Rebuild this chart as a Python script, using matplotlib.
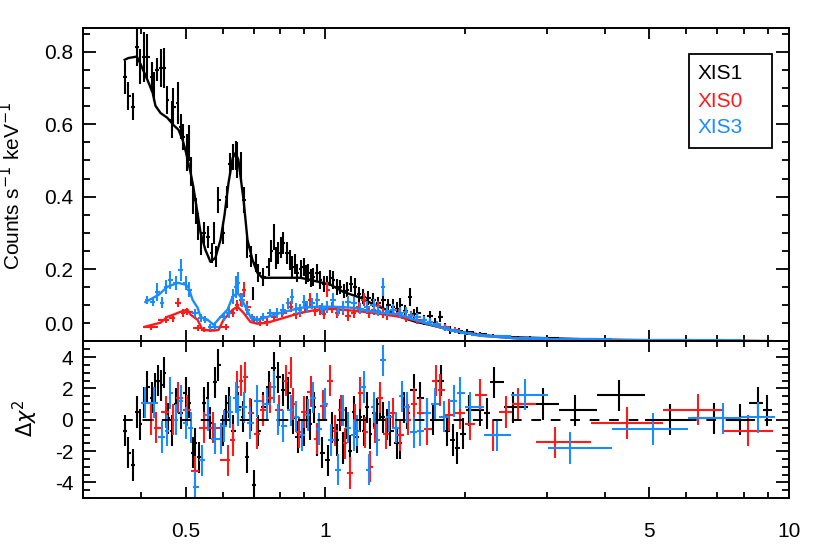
import numpy as np
import matplotlib
matplotlib.use("Agg")
import matplotlib.pyplot as plt
from matplotlib.patches import Rectangle
from matplotlib.ticker import FixedLocator, MultipleLocator, NullFormatter, FixedFormatter

plt.rcParams['font.family'] = ['Liberation Sans', 'DejaVu Sans']
plt.rcParams['mathtext.fontset'] = 'dejavusans'

BLACK = "black"
RED = "#ff1a1a"
BLUE = "#1a8cff"

# ---- XIS1 spectrum: energy (keV), counts s^-1 keV^-1, 1-sigma ----
xis1_e = [0.369, 0.376, 0.384, 0.392, 0.399, 0.407, 0.413, 0.422, 0.426, 0.434,
          0.443, 0.448, 0.456, 0.466, 0.470, 0.480, 0.487, 0.494, 0.502, 0.507,
          0.512, 0.519, 0.526, 0.532, 0.539, 0.546, 0.557, 0.568, 0.574, 0.581,
          0.588, 0.600, 0.612, 0.624, 0.633, 0.640, 0.646, 0.656, 0.666, 0.679,
          0.690, 0.698, 0.708, 0.717, 0.735, 0.754, 0.765, 0.773, 0.782, 0.792,
          0.802, 0.812, 0.828, 0.838, 0.849, 0.860, 0.870, 0.884, 0.897, 0.908,
          0.919, 0.930, 0.942, 0.958, 0.975, 0.992, 1.010, 1.025, 1.040, 1.058,
          1.077, 1.096, 1.115, 1.138, 1.161, 1.184, 1.207, 1.238, 1.269, 1.300,
          1.334, 1.368, 1.402, 1.425, 1.451, 1.488, 1.524, 1.551, 1.579, 1.630,
          1.684, 1.727, 1.770, 1.815, 1.859, 1.94, 2.023, 2.16, 2.30, 2.45,
          2.60, 2.76, 2.94, 3.46, 4.30, 5.54, 6.89, 7.84, 8.57, 8.97]
xis1_f = [0.730, 0.679, 0.649, 0.814, 0.759, 0.786, 0.786, 0.731, 0.704, 0.751,
          0.756, 0.756, 0.668, 0.613, 0.649, 0.660, 0.593, 0.565, 0.522, 0.549,
          0.470, 0.391, 0.360, 0.317, 0.270, 0.300, 0.289, 0.245, 0.300, 0.235,
          0.391, 0.300, 0.400, 0.490, 0.510, 0.515, 0.502, 0.483, 0.391, 0.261,
          0.235, 0.133, 0.217, 0.190, 0.179, 0.206, 0.250, 0.289, 0.230, 0.245,
          0.260, 0.272, 0.245, 0.225, 0.206, 0.215, 0.190, 0.200, 0.206, 0.185,
          0.190, 0.175, 0.179, 0.190, 0.170, 0.158, 0.162, 0.175, 0.170, 0.150,
          0.151, 0.140, 0.143, 0.160, 0.151, 0.130, 0.124, 0.120, 0.115, 0.105,
          0.115, 0.100, 0.096, 0.090, 0.100, 0.085, 0.124, 0.075, 0.079, 0.060,
          0.070, 0.052, 0.068, 0.040, 0.032, 0.030, 0.027, 0.020, 0.016, 0.013,
          0.011, 0.010, 0.009, 0.006, 0.005, 0.003, 0.002, 0.002, 0.002, 0.001]
xis1_ferr = [0.046, 0.039, 0.037, 0.053, 0.048, 0.069, 0.062, 0.041, 0.040, 0.032,
             0.053, 0.055, 0.039, 0.050, 0.050, 0.058, 0.035, 0.035, 0.050, 0.050,
             0.040, 0.040, 0.035, 0.037, 0.032, 0.030, 0.030, 0.028, 0.030, 0.028,
             0.035, 0.030, 0.030, 0.030, 0.035, 0.040, 0.050, 0.040, 0.035, 0.030,
             0.028, 0.018, 0.025, 0.025, 0.025, 0.025, 0.030, 0.035, 0.030, 0.030,
             0.030, 0.030, 0.030, 0.028, 0.030, 0.028, 0.025, 0.025, 0.025, 0.025,
             0.025, 0.025, 0.025, 0.025, 0.025, 0.022, 0.020, 0.022, 0.025, 0.022,
             0.020, 0.020, 0.020, 0.022, 0.025, 0.020, 0.020, 0.020, 0.020, 0.018,
             0.025, 0.018, 0.020, 0.018, 0.020, 0.016, 0.025, 0.015, 0.015, 0.014,
             0.015, 0.012, 0.015, 0.010, 0.010, 0.008, 0.008, 0.006, 0.005, 0.005,
             0.004, 0.004, 0.003, 0.003, 0.002, 0.002, 0.001, 0.001, 0.001, 0.001]

# ---- XIS0 spectrum ----
xis0_e = [0.420, 0.452, 0.468, 0.482, 0.492, 0.504, 0.530, 0.546, 0.565, 0.609,
          0.631, 0.646, 0.656, 0.666, 0.679, 0.700, 0.724, 0.750, 0.773, 0.808,
          0.841, 0.865, 0.883, 0.905, 0.928, 0.950, 0.975, 0.992, 1.01, 1.035,
          1.06, 1.09, 1.12, 1.15, 1.18, 1.21, 1.24, 1.27, 1.30, 1.33,
          1.36, 1.40, 1.44, 1.49, 1.53, 1.58, 1.63, 1.68, 1.74, 1.81,
          1.90, 2.00, 2.16, 2.30, 2.60, 3.13, 4.48, 6.37, 8.16]
xis0_f = [0.041, 0.060, 0.065, 0.107, 0.079, 0.082, 0.038, 0.032, 0.032, 0.041,
          0.079, 0.100, 0.115, 0.143, 0.096, 0.060, 0.052, 0.054, 0.068, 0.079,
          0.096, 0.075, 0.079, 0.095, 0.115, 0.085, 0.088, 0.075, 0.143, 0.095,
          0.079, 0.088, 0.070, 0.079, 0.095, 0.115, 0.080, 0.088, 0.098, 0.079,
          0.072, 0.088, 0.078, 0.065, 0.072, 0.060, 0.058, 0.055, 0.045, 0.041,
          0.032, 0.024, 0.018, 0.014, 0.010, 0.007, 0.005, 0.003, 0.002]
xis0_ferr = [0.008, 0.010, 0.010, 0.012, 0.010, 0.010, 0.008, 0.007, 0.007, 0.008,
             0.012, 0.015, 0.018, 0.020, 0.015, 0.010, 0.010, 0.010, 0.012, 0.012,
             0.015, 0.012, 0.012, 0.014, 0.018, 0.014, 0.014, 0.012, 0.020, 0.015,
             0.014, 0.015, 0.013, 0.014, 0.015, 0.018, 0.014, 0.014, 0.015, 0.014,
             0.013, 0.014, 0.013, 0.012, 0.013, 0.011, 0.011, 0.010, 0.009, 0.008,
             0.007, 0.006, 0.005, 0.004, 0.003, 0.002, 0.002, 0.001, 0.001]

# ---- XIS3 spectrum ----
xis3_e = [0.413, 0.424, 0.434, 0.445, 0.452, 0.463, 0.475, 0.487, 0.500, 0.507,
          0.524, 0.538, 0.551, 0.565, 0.579, 0.603, 0.618, 0.631, 0.640, 0.649,
          0.662, 0.679, 0.696, 0.713, 0.735, 0.761, 0.788, 0.812, 0.830, 0.849,
          0.866, 0.883, 0.900, 0.914, 0.935, 0.961, 0.985, 1.01, 1.04, 1.065,
          1.09, 1.12, 1.15, 1.19, 1.23, 1.27, 1.30, 1.33, 1.36, 1.40,
          1.45, 1.49, 1.53, 1.58, 1.63, 1.68, 1.74, 1.81, 1.90, 2.00,
          2.13, 2.35, 2.70, 3.37, 5.09, 7.21, 8.57]
xis3_f = [0.115, 0.109, 0.137, 0.107, 0.151, 0.170, 0.162, 0.198, 0.162, 0.143,
          0.079, 0.065, 0.060, 0.041, 0.041, 0.068, 0.079, 0.124, 0.151, 0.162,
          0.115, 0.088, 0.065, 0.060, 0.068, 0.079, 0.079, 0.088, 0.105, 0.124,
          0.090, 0.088, 0.110, 0.096, 0.105, 0.115, 0.090, 0.096, 0.115, 0.085,
          0.096, 0.110, 0.107, 0.090, 0.096, 0.100, 0.085, 0.151, 0.085, 0.088,
          0.080, 0.082, 0.070, 0.068, 0.060, 0.055, 0.048, 0.038, 0.030, 0.024,
          0.019, 0.015, 0.010, 0.007, 0.004, 0.003, 0.002]
xis3_ferr = [0.012, 0.012, 0.025, 0.015, 0.020, 0.025, 0.020, 0.030, 0.020, 0.020,
             0.012, 0.012, 0.010, 0.008, 0.008, 0.012, 0.015, 0.020, 0.030, 0.030,
             0.020, 0.015, 0.012, 0.010, 0.012, 0.012, 0.014, 0.015, 0.016, 0.020,
             0.015, 0.015, 0.018, 0.016, 0.016, 0.018, 0.015, 0.016, 0.018, 0.014,
             0.016, 0.017, 0.017, 0.015, 0.016, 0.016, 0.014, 0.025, 0.014, 0.015,
             0.014, 0.014, 0.012, 0.012, 0.011, 0.010, 0.009, 0.008, 0.007, 0.006,
             0.005, 0.004, 0.003, 0.002, 0.002, 0.001, 0.001]

# ---- best-fit models ----
mod1_e = [0.369, 0.376, 0.392, 0.399, 0.413, 0.424, 0.430, 0.441, 0.456, 0.470,
          0.482, 0.492, 0.500, 0.512, 0.519, 0.538, 0.551, 0.565, 0.579, 0.594,
          0.606, 0.618, 0.631, 0.640, 0.649, 0.666, 0.679, 0.696, 0.713, 0.731,
          0.883, 0.928, 1.025, 1.093, 1.19, 1.25, 1.35, 1.45, 1.56, 1.68,
          1.86, 2.02, 2.35, 2.81, 3.9, 6.4, 9.0]
mod1_f = [0.778, 0.783, 0.787, 0.767, 0.723, 0.687, 0.651, 0.631, 0.618, 0.598,
          0.585, 0.557, 0.524, 0.466, 0.427, 0.300, 0.253, 0.220, 0.231, 0.281,
          0.350, 0.438, 0.507, 0.521, 0.502, 0.391, 0.281, 0.226, 0.190, 0.176,
          0.176, 0.170, 0.157, 0.137, 0.121, 0.107, 0.088, 0.068, 0.055, 0.046,
          0.032, 0.024, 0.013, 0.010, 0.005, 0.002, 0.001]
mod0_e = [0.409, 0.441, 0.456, 0.470, 0.487, 0.504, 0.512, 0.530, 0.543, 0.574,
          0.588, 0.603, 0.631, 0.646, 0.666, 0.689, 0.713, 0.750, 0.812, 0.883,
          0.961, 1.04, 1.15, 1.27, 1.45, 1.60, 1.86, 2.16, 2.63, 3.9, 8.6]
mod0_f = [0.041, 0.052, 0.068, 0.074, 0.082, 0.088, 0.074, 0.060, 0.032, 0.030,
          0.032, 0.060, 0.088, 0.096, 0.079, 0.054, 0.049, 0.052, 0.065, 0.079,
          0.088, 0.090, 0.085, 0.079, 0.068, 0.055, 0.032, 0.016, 0.008, 0.004, 0.001]
mod3_e = [0.409, 0.437, 0.456, 0.480, 0.500, 0.507, 0.517, 0.530, 0.538, 0.557,
          0.574, 0.594, 0.615, 0.631, 0.646, 0.656, 0.672, 0.689, 0.713, 0.750,
          0.800, 0.883, 0.961, 1.04, 1.15, 1.27, 1.45, 1.60, 1.86, 2.16,
          2.63, 3.9, 8.6]
mod3_f = [0.109, 0.129, 0.151, 0.162, 0.157, 0.148, 0.115, 0.093, 0.068, 0.060,
          0.046, 0.068, 0.088, 0.124, 0.134, 0.124, 0.096, 0.068, 0.060, 0.068,
          0.079, 0.093, 0.096, 0.096, 0.093, 0.082, 0.074, 0.055, 0.032, 0.016,
          0.008, 0.004, 0.001]

# ---- residuals, (data - model) / sigma ----
res1_e = [0.369, 0.376, 0.384, 0.392, 0.399, 0.407, 0.413, 0.422, 0.428, 0.436,
          0.443, 0.448, 0.458, 0.466, 0.475, 0.487, 0.500, 0.507, 0.517, 0.524,
          0.535, 0.546, 0.557, 0.565, 0.579, 0.588, 0.600, 0.609, 0.618, 0.633,
          0.649, 0.665, 0.679, 0.690, 0.700, 0.717, 0.735, 0.754, 0.773, 0.792,
          0.812, 0.832, 0.852, 0.872, 0.897, 0.912, 0.928, 0.945, 0.961, 0.985,
          1.015, 1.035, 1.06, 1.075, 1.093, 1.11, 1.13, 1.15, 1.17, 1.19,
          1.21, 1.23, 1.25, 1.27, 1.29, 1.31, 1.33, 1.36, 1.38, 1.43,
          1.45, 1.48, 1.50, 1.55, 1.60, 1.66, 1.71, 1.78, 1.83, 1.88,
          1.92, 1.98, 2.04, 2.16, 2.23, 2.31, 2.54, 2.94, 3.46, 4.30,
          5.54, 6.89, 7.84, 8.57, 8.97]
res1_r = [-0.7, -2.1, -2.9, 0.5, -0.3, 1.1, 2.1, 1.4, 2.0, 2.5,
          2.2, 3.0, 0.1, -0.7, 1.0, 0.4, 1.7, 1.1, -2.1, -1.5,
          -2.4, 1.1, 1.4, -0.2, 2.4, 3.5, -0.7, 0.6, 1.1, -0.7,
          0.8, 0.2, -2.4, 0.3, -4.2, -0.7, 0.8, 2.1, 3.3, 2.7,
          1.9, 1.7, 0.1, -1.1, -0.7, 0.5, -0.3, 0.8, -1.3, -2.1,
          -2.6, -0.5, -1.3, 0.3, -1.8, -0.2, -2.0, 0.5, -1.1, 0.2,
          -0.7, 0.8, -0.9, 0.4, 0.4, 1.0, 0.15, -0.3, -0.7, -1.5,
          -1.5, 0.8, 0.4, 1.9, 1.4, 0.4, 0.0, 2.5, -0.7, -1.3,
          -1.8, -0.9, 0.6, 0.6, 0.4, 2.4, 0.8, 1.0, 0.6, 1.55,
          0.0, 0.1, 0.0, 1.1, 0.6]
res0_e = [0.420, 0.432, 0.452, 0.470, 0.482, 0.504, 0.524, 0.546, 0.571, 0.615,
          0.631, 0.646, 0.659, 0.672, 0.689, 0.713, 0.735, 0.761, 0.796, 0.824,
          0.841, 0.853, 0.875, 0.90, 0.93, 0.96, 0.99, 1.025, 1.05, 1.08,
          1.10, 1.13, 1.16, 1.19, 1.22, 1.25, 1.28, 1.31, 1.35, 1.40,
          1.45, 1.51, 1.55, 1.60, 1.66, 1.73, 1.77, 1.85, 1.95, 2.05,
          2.16, 2.30, 2.45, 2.60, 3.13, 4.48, 6.37, 8.16]
res0_r = [0.0, -0.5, 0.5, 0.0, 1.4, 0.6, -3.3, -0.5, -0.5, -2.6,
          -1.3, 2.1, 2.5, 2.7, 0.4, -0.9, 0.6, 1.4, 0.6, 2.5,
          3.0, 1.0, -0.8, 0.5, 1.8, -1.2, 0.9, 2.5, -0.7, 0.6,
          -1.5, -3.4, 0.0, 1.7, -0.8, -3.0, -0.5, 1.4, -0.9, 0.4,
          -1.0, 0.0, 1.0, 0.4, -0.6, 2.5, 1.9, 0.3, 0.4, -0.3,
          1.6, -1.0, 0.5, 1.0, -1.45, -0.2, 0.65, -0.7]
res3_e = [0.409, 0.426, 0.445, 0.456, 0.463, 0.475, 0.487, 0.500, 0.512, 0.524,
          0.541, 0.557, 0.579, 0.594, 0.603, 0.624, 0.640, 0.649, 0.666, 0.689,
          0.713, 0.750, 0.773, 0.792, 0.812, 0.841, 0.866, 0.89, 0.915, 0.94,
          0.97, 1.0, 1.03, 1.067, 1.09, 1.12, 1.15, 1.17, 1.21, 1.24,
          1.27, 1.29, 1.33, 1.37, 1.42, 1.46, 1.50, 1.55, 1.60, 1.66,
          1.72, 1.80, 1.89, 1.95, 2.05, 2.35, 2.70, 3.37, 5.09, 7.21, 8.57]
res3_r = [1.1, 1.1, -1.1, -0.7, 1.7, 0.0, 1.2, -0.2, -0.5, -4.3,
          -2.6, 0.3, -1.2, -1.2, -0.4, 0.5, 1.4, 0.6, 0.8, -0.2,
          1.2, 1.0, 2.1, 0.0, -0.4, 0.6, 0.2, -1.0, 0.3, 1.4,
          -0.6, 1.0, -1.3, -3.2, 0.6, -0.5, -1.0, -0.7, 2.1, -3.2,
          0.8, -1.3, 3.8, 0.2, -0.5, 1.5, 0.8, -0.8, -0.7, 0.4,
          1.0, 0.2, 1.2, 1.7, 0.8, -1.0, 1.6, -1.8, -0.6, 0.1, 0.15]


def bin_halfwidths(e):
    """Channel bins are contiguous: edges sit half way (in log) between centres."""
    le = np.log10(np.asarray(e, dtype=float))
    mid = 0.5 * (le[1:] + le[:-1])
    lo = np.concatenate([[2 * le[0] - mid[0]], mid])
    hi = np.concatenate([mid, [2 * le[-1] - mid[-1]]])
    e = 10 ** le
    return np.vstack([e - 10 ** lo, 10 ** hi - e])


fig = plt.figure(figsize=(8.3, 5.54), dpi=100)
ax1 = fig.add_axes([0.1, 0.3836, 0.8506, 0.5659])
ax2 = fig.add_axes([0.1, 0.1011, 0.8506, 0.2825], sharex=ax1)

eb = dict(fmt="none", elinewidth=1.5, capsize=0)
spectra = [
    (xis1_e, xis1_f, xis1_ferr, mod1_e, mod1_f, res1_e, res1_r, BLACK),
    (xis0_e, xis0_f, xis0_ferr, mod0_e, mod0_f, res0_e, res0_r, RED),
    (xis3_e, xis3_f, xis3_ferr, mod3_e, mod3_f, res3_e, res3_r, BLUE),
]
for e, f, ferr, me, mf, re, rr, col in spectra:
    ax1.errorbar(e, f, yerr=ferr, xerr=bin_halfwidths(e), ecolor=col, **eb)
    ax1.plot(me, mf, color=col, lw=1.7)
    ax2.errorbar(re, rr, yerr=np.ones(len(rr)), xerr=bin_halfwidths(re), ecolor=col, **eb)

edges1 = bin_halfwidths(res1_e)
ax2.plot([res1_e[0] - edges1[0, 0], res1_e[-1] + edges1[1, -1]], [0, 0],
         color="black", lw=1.4, ls=(0, (5, 5)))

# axes styling, IDL-like
ax1.set_xscale("log")
ax1.set_xlim(0.3, 10)
ax1.set_ylim(0, 0.866)
ax2.set_ylim(-5, 5)

xmajor = [0.5, 1, 5, 10]
xminor = [0.3, 0.4, 0.6, 0.7, 0.8, 0.9, 2, 3, 4, 6, 7, 8, 9]
for ax in (ax1, ax2):
    ax.xaxis.set_major_locator(FixedLocator(xmajor))
    ax.xaxis.set_minor_locator(FixedLocator(xminor))
    ax.xaxis.set_minor_formatter(NullFormatter())
    for s in ax.spines.values():
        s.set_linewidth(1.4)
    ax.tick_params(which="both", direction="in", top=True, right=True, width=1.3)
    ax.tick_params(axis="y", which="major", length=9.5, labelsize=15, pad=7)
    ax.tick_params(axis="y", which="minor", length=5)
    ax.tick_params(axis="x", which="major", length=8, labelsize=15, pad=17)
    ax.tick_params(axis="x", which="minor", length=4.5)

ax1.tick_params(axis="x", which="both", labelbottom=False)
ax2.xaxis.set_major_formatter(FixedFormatter(["0.5", "1", "5", "10"]))

ax1.yaxis.set_major_locator(FixedLocator([0, 0.2, 0.4, 0.6, 0.8]))
ax1.yaxis.set_minor_locator(MultipleLocator(0.05))
ax1.yaxis.set_major_formatter(FixedFormatter(["", "0.2", "0.4", "0.6", "0.8"]))
ax1.text(-0.0142, 0.05, "0.0", transform=ax1.transAxes, ha="right", va="center", fontsize=15)

ax2.yaxis.set_major_locator(FixedLocator([-4, -2, 0, 2, 4]))
ax2.yaxis.set_minor_locator(MultipleLocator(0.5))
ax2.yaxis.set_major_formatter(FixedFormatter(["-4", "-2", "0", "2", "4"]))

fig.text(0.014, 0.665, r"Counts s$^{-1}$ keV$^{-1}$", rotation=90,
         ha="center", va="center", fontsize=15)
fig.text(0.03, 0.245, r"$\Delta\chi^2$", rotation=90, ha="center", va="center", fontsize=15)

# legend box
ax1.add_patch(Rectangle((0.858, 0.617), 0.118, 0.30, transform=ax1.transAxes,
                        fill=False, lw=1.3, ec="black", zorder=5))
for label, col, yy in [("XIS1", BLACK, 0.856), ("XIS0", RED, 0.767), ("XIS3", BLUE, 0.681)]:
    ax1.text(0.871, yy, label, color=col, transform=ax1.transAxes,
             ha="left", va="center", fontsize=15)

fig.savefig("out.png", dpi=100)
